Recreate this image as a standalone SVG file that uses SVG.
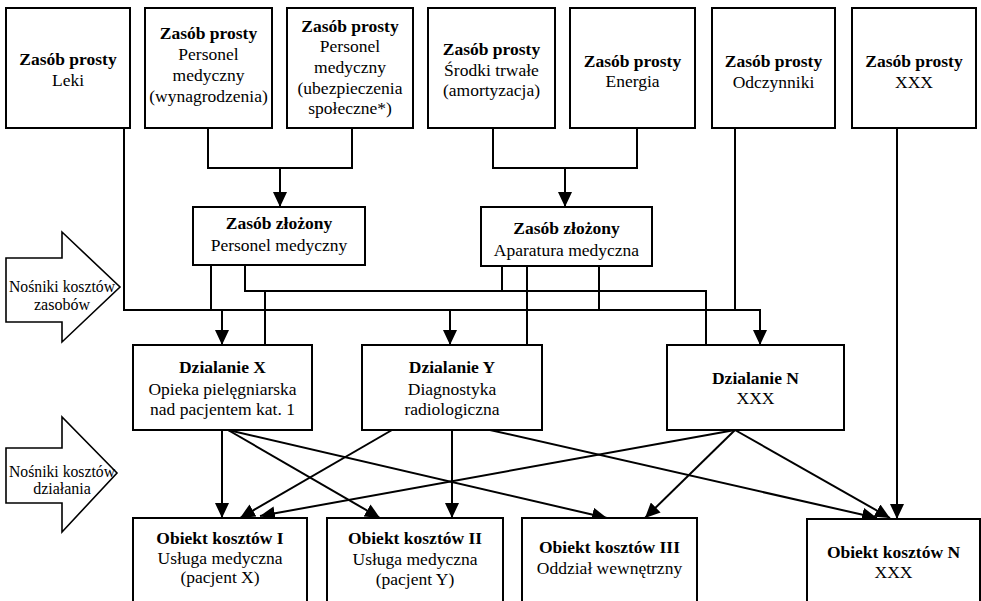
<svg xmlns="http://www.w3.org/2000/svg" width="981" height="601" viewBox="0 0 981 601">
<style>
.box{fill:#fff;stroke:#000;stroke-width:2}
.big{fill:#fff;stroke:#000;stroke-width:1.6}
text{font-family:"Liberation Serif","Times New Roman",serif;font-size:17.5px;fill:#000;text-anchor:middle}
.b{font-weight:bold}
.s{font-size:16px}
.c{fill:none;stroke:#000;stroke-width:2}
.a{marker-end:url(#ah)}
</style>
<defs>
<marker id="ah" markerUnits="userSpaceOnUse" markerWidth="15" markerHeight="14" refX="15" refY="7" orient="auto">
<path d="M0,0 L15,7 L0,14 z" fill="#000"/>
</marker>
</defs>
<rect width="981" height="601" fill="#fff"/>

<g id="connectors">
<path class="c" d="M208,128 V168 H352 V128"/>
<path class="c a" d="M280,168 V207"/>
<path class="c" d="M493,128 V168 H637 V128"/>
<path class="c a" d="M565,168 V207"/>
<path class="c a" d="M124,128 V310 H760 V345"/>
<path class="c a" d="M222,310 V345"/>
<path class="c a" d="M450,310 V345"/>
<path class="c" d="M211,265 V310"/>
<path class="c" d="M245,265 V291 H706 V345"/>
<path class="c" d="M265,291 V345"/>
<path class="c" d="M502,266 V291"/>
<path class="c" d="M527,266 V345"/>
<path class="c" d="M599,266 V310"/>
<path class="c" d="M735,128 V310"/>
<path class="c a" d="M897,128 V519"/>
<path class="c a" d="M222,430 V518"/>
<path class="c a" d="M228,430 L607,518"/>
<path class="c a" d="M228,430 L380,518"/>
<path class="c a" d="M392,430 L240,518"/>
<path class="c a" d="M452,430 V518"/>
<path class="c a" d="M490,430 L877,518"/>
<path class="c a" d="M735,430 L260,516"/>
<path class="c a" d="M735,430 L645,518"/>
<path class="c a" d="M735,430 L890,518"/>
</g>

<g id="arrow-zasobow">
<polygon class="big" points="6,258 62,258 62,232 120,287 62,342 62,322 6,322"/>
<text class="s" x="62" y="292" textLength="106" lengthAdjust="spacingAndGlyphs">Nośniki kosztów</text>
<text class="s" x="62" y="310">zasobów</text>
</g>
<g id="arrow-dzialania">
<polygon class="big" points="6,448 62,448 62,417 117,473 62,532 62,503 6,503"/>
<text class="s" x="62" y="477" textLength="106" lengthAdjust="spacingAndGlyphs">Nośniki kosztów</text>
<text class="s" x="62" y="494">działania</text>
</g>

<g id="z-leki">
<rect class="box" x="6" y="8" width="124" height="120"/>
<text class="b" x="68" y="65">Zasób prosty</text>
<text x="68" y="86">Leki</text>
</g>
<g id="z-personel-wyn">
<rect class="box" x="145" y="8" width="127" height="120"/>
<text class="b" x="208.5" y="39">Zasób prosty</text>
<text x="208.5" y="60">Personel</text>
<text x="208.5" y="81">medyczny</text>
<text x="208.5" y="102">(wynagrodzenia)</text>
</g>
<g id="z-personel-ubezp">
<rect class="box" x="287" y="8" width="126" height="120"/>
<text class="b" x="350" y="32">Zasób prosty</text>
<text x="350" y="52">Personel</text>
<text x="350" y="73">medyczny</text>
<text x="350" y="94">(ubezpieczenia</text>
<text x="350" y="114">społeczne*)</text>
</g>
<g id="z-srodki">
<rect class="box" x="428" y="8" width="127" height="120"/>
<text class="b" x="491.5" y="55">Zasób prosty</text>
<text x="491.5" y="76">Środki trwałe</text>
<text x="491.5" y="96">(amortyzacja)</text>
</g>
<g id="z-energia">
<rect class="box" x="570" y="8" width="125" height="120"/>
<text class="b" x="632.5" y="67">Zasób prosty</text>
<text x="632.5" y="87">Energia</text>
</g>
<g id="z-odczynniki">
<rect class="box" x="712" y="8" width="123" height="120"/>
<text class="b" x="773.5" y="67">Zasób prosty</text>
<text x="773.5" y="88">Odczynniki</text>
</g>
<g id="z-xxx">
<rect class="box" x="852" y="8" width="124" height="120"/>
<text class="b" x="914" y="67">Zasób prosty</text>
<text x="914" y="88">XXX</text>
</g>

<g id="zz-personel">
<rect class="box" x="193" y="207" width="172" height="58"/>
<text class="b" x="279" y="229">Zasób złożony</text>
<text x="279" y="251">Personel medyczny</text>
</g>
<g id="zz-aparatura">
<rect class="box" x="481" y="207" width="171" height="59"/>
<text class="b" x="566.5" y="234">Zasób złożony</text>
<text x="566.5" y="256">Aparatura medyczna</text>
</g>

<g id="d-x">
<rect class="box" x="133" y="345" width="179" height="85"/>
<text class="b" x="222.5" y="373">Dzialanie X</text>
<text x="222.5" y="395">Opieka pielęgniarska</text>
<text x="222.5" y="415">nad pacjentem kat. 1</text>
</g>
<g id="d-y">
<rect class="box" x="362" y="345" width="180" height="85"/>
<text class="b" x="452" y="373">Dzialanie Y</text>
<text x="452" y="395">Diagnostyka</text>
<text x="452" y="415">radiologiczna</text>
</g>
<g id="d-n">
<rect class="box" x="667" y="345" width="177" height="85"/>
<text class="b" x="755.5" y="384">Dzialanie N</text>
<text x="755.5" y="404">XXX</text>
</g>

<g id="o-1">
<rect class="box" x="133" y="518" width="174" height="100"/>
<text class="b" x="220" y="544">Obiekt kosztów I</text>
<text x="220" y="564">Usługa medyczna</text>
<text x="220" y="583">(pacjent X)</text>
</g>
<g id="o-2">
<rect class="box" x="327" y="518" width="176" height="100"/>
<text class="b" x="415" y="544">Obiekt kosztów II</text>
<text x="415" y="565">Usługa medyczna</text>
<text x="415" y="585">(pacjent Y)</text>
</g>
<g id="o-3">
<rect class="box" x="522" y="518" width="175" height="100"/>
<text class="b" x="609.5" y="553">Obiekt kosztów III</text>
<text x="609.5" y="574">Oddział wewnętrzny</text>
</g>
<g id="o-n">
<rect class="box" x="807" y="519" width="173" height="100"/>
<text class="b" x="893.5" y="558">Obiekt kosztów N</text>
<text x="893.5" y="578">XXX</text>
</g>
</svg>
